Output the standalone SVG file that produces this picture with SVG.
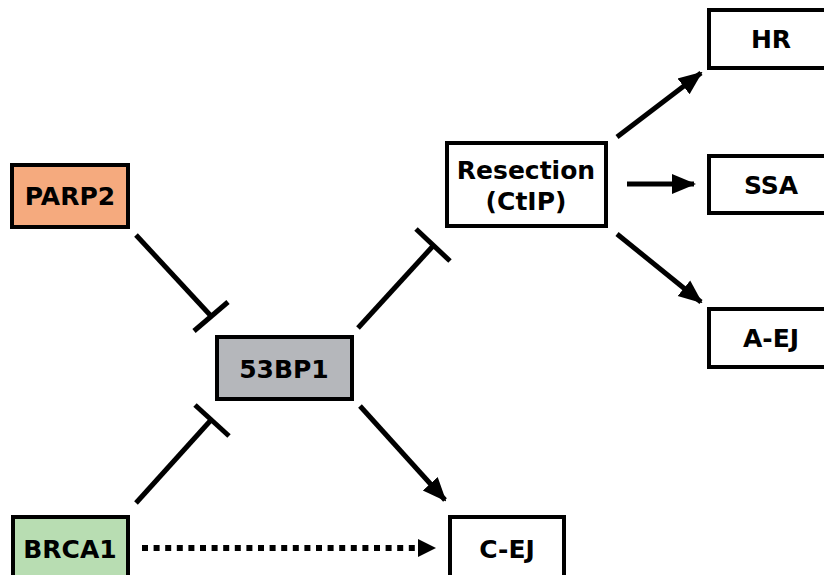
<svg xmlns="http://www.w3.org/2000/svg" width="824" height="575" viewBox="0 0 824 575">
<style>
.box{stroke:#000;stroke-width:4}
.lbl{font-family:"DejaVu Sans","Liberation Sans",sans-serif;font-weight:bold;font-size:25px;text-anchor:middle;fill:#000}
.edge{stroke:#000;stroke-width:5;fill:none}
</style>
<defs>
<marker id="arr" markerUnits="userSpaceOnUse" markerWidth="24" markerHeight="22" viewBox="0 0 24 22" refX="22" refY="11" orient="auto">
<path d="M0,1 L24,11 L0,21 Z" fill="#000"/>
</marker>
</defs>
<rect width="824" height="575" fill="#fff"/>
<g id="connectors">
<line class="edge" x1="136" y1="235" x2="211" y2="316"/>
<line class="edge" x1="194" y1="331" x2="228" y2="302"/>
<line class="edge" x1="136" y1="503" x2="211" y2="420"/>
<line class="edge" x1="195" y1="405" x2="229" y2="436"/>
<line class="edge" x1="358" y1="328" x2="433" y2="246"/>
<line class="edge" x1="416" y1="229" x2="450" y2="261"/>
<line class="edge" x1="360" y1="406" x2="445" y2="500" marker-end="url(#arr)"/>
<line class="edge" x1="617" y1="137" x2="701" y2="73" marker-end="url(#arr)"/>
<line class="edge" x1="627" y1="184" x2="694" y2="184" marker-end="url(#arr)"/>
<line class="edge" x1="617" y1="234" x2="701" y2="302" marker-end="url(#arr)"/>
<line x1="142" y1="548" x2="418" y2="548" stroke="#000" stroke-width="6" stroke-dasharray="6 5.6"/>
<path d="M418,539 L436,548 L418,557 Z" fill="#000"/>
</g>
<g id="PARP2">
<rect class="box" x="12" y="165" width="116" height="62" fill="#f5aa7e"/>
<text class="lbl" x="70" y="205">PARP2</text>
</g>
<g id="n53BP1">
<rect class="box" x="217" y="337" width="135" height="62" fill="#b5b7bb"/>
<text class="lbl" x="284" y="378">53BP1</text>
</g>
<g id="BRCA1">
<rect class="box" x="13" y="517" width="115" height="62" fill="#b8ddb2"/>
<text class="lbl" x="70" y="558">BRCA1</text>
</g>
<g id="Resection">
<rect class="box" x="447" y="143" width="159" height="83" fill="#fff"/>
<text class="lbl" x="526" y="179">Resection</text>
<text class="lbl" x="526" y="210">(CtIP)</text>
</g>
<g id="HR">
<rect class="box" x="709" y="10" width="130" height="58" fill="#fff"/>
<text class="lbl" x="771" y="48">HR</text>
</g>
<g id="SSA">
<rect class="box" x="709" y="156" width="130" height="57" fill="#fff"/>
<text class="lbl" x="771" y="194">SSA</text>
</g>
<g id="AEJ">
<rect class="box" x="709" y="309" width="130" height="58" fill="#fff"/>
<text class="lbl" x="771" y="347">A-EJ</text>
</g>
<g id="CEJ">
<rect class="box" x="450" y="517" width="114" height="62" fill="#fff"/>
<text class="lbl" x="507" y="558">C-EJ</text>
</g>
</svg>
